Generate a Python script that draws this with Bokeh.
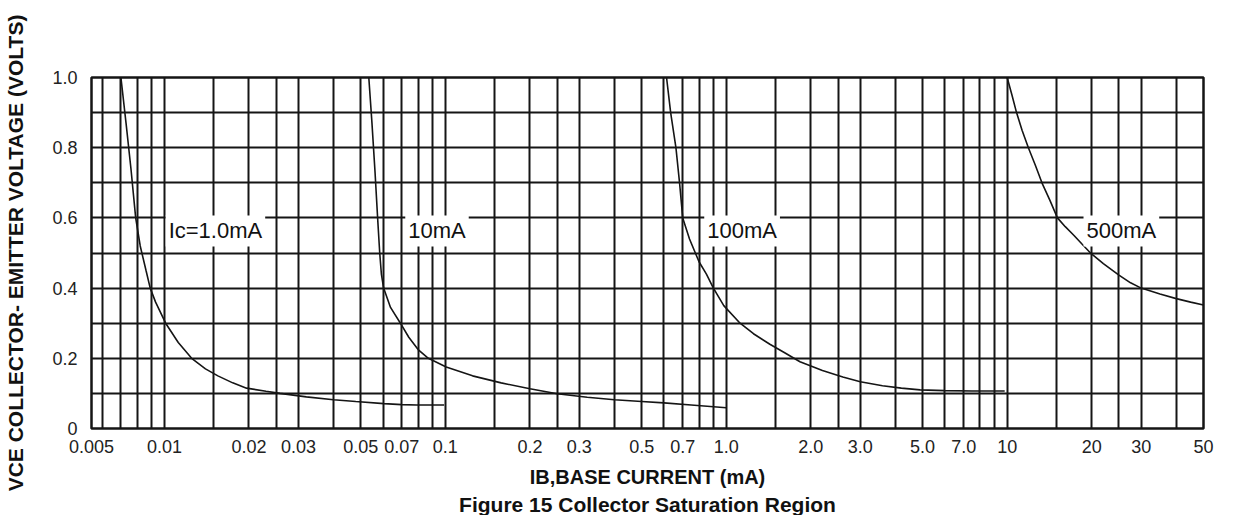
from bokeh.plotting import figure
from bokeh.models import FixedTicker, Label, Range1d, Title
from bokeh.embed import file_html
from bokeh.resources import INLINE

# ---------------- data ----------------
# Ic = 1.0 mA
ib_1ma = [0.0070, 0.0073, 0.0076, 0.0079, 0.0082, 0.0086, 0.0089, 0.0093, 0.0101,
          0.0112, 0.0125, 0.0140, 0.0155, 0.0175, 0.0196, 0.0230, 0.0258, 0.0320,
          0.0400, 0.0480, 0.0604, 0.0700, 0.0790, 0.0990]
vce_1ma = [1.00, 0.87, 0.74, 0.60, 0.52, 0.45, 0.40, 0.36, 0.30,
           0.245, 0.20, 0.17, 0.150, 0.13, 0.115, 0.106, 0.100, 0.090,
           0.082, 0.077, 0.071, 0.068, 0.067, 0.067]
# Ic = 10 mA
ib_10ma = [0.0534, 0.0548, 0.0562, 0.0574, 0.0584, 0.0592, 0.0603, 0.0638, 0.0692,
           0.0741, 0.0800, 0.0870, 0.0950, 0.1007, 0.1250, 0.1580, 0.2000, 0.2500,
           0.3200, 0.4000, 0.5000, 0.6000, 0.7500, 1.0000]
vce_10ma = [1.00, 0.87, 0.73, 0.60, 0.50, 0.44, 0.40, 0.345, 0.30,
            0.26, 0.225, 0.20, 0.185, 0.175, 0.150, 0.130, 0.113, 0.099,
            0.089, 0.082, 0.077, 0.073, 0.067, 0.059]
# Ic = 100 mA
ib_100ma = [0.613, 0.634, 0.662, 0.682, 0.700, 0.740, 0.800, 0.850, 0.900, 0.980,
            1.12, 1.25, 1.43, 1.62, 1.83, 2.2, 2.6, 3.0, 3.6, 4.2, 4.9, 6.0, 7.5, 9.8]
vce_100ma = [1.00, 0.90, 0.80, 0.70, 0.60, 0.54, 0.475, 0.44, 0.40, 0.35,
             0.30, 0.27, 0.24, 0.215, 0.19, 0.165, 0.147, 0.133, 0.122, 0.115,
             0.110, 0.108, 0.107, 0.107]
# Ic = 500 mA
ib_500ma = [10.0, 10.4, 10.8, 11.3, 11.9, 12.6, 13.3, 14.2, 15.1, 16.1, 17.3, 18.5,
            19.8, 22.0, 25.0, 27.5, 30.0, 35.0, 40.0, 45.0, 50.0]
vce_500ma = [1.00, 0.95, 0.90, 0.85, 0.80, 0.75, 0.70, 0.65, 0.60, 0.575, 0.55, 0.525,
             0.50, 0.47, 0.437, 0.415, 0.40, 0.383, 0.37, 0.36, 0.352]

curve_names = ["Ic=1.0mA", "10mA", "100mA", "500mA"]
# where each curve's name is written (left edge of text, on the 0.6 V grid line)
curve_label_x = [0.0101, 0.072, 0.835, 18.7]
curve_label_y = [0.6, 0.6, 0.6, 0.6]

# axis ticks (the reference's first decade is compressed; its left edge is labelled 0.005)
x_tick_values = [0.0055, 0.01, 0.02, 0.03, 0.05, 0.07, 0.1, 0.2, 0.3, 0.5, 0.7,
                 1, 2, 3, 5, 7, 10, 20, 30, 50]
x_tick_labels = ["0.005", "0.01", "0.02", "0.03", "0.05", "0.07", "0.1", "0.2", "0.3",
                 "0.5", "0.7", "1.0", "2.0", "3.0", "5.0", "7.0", "10", "20", "30", "50"]
x_grid_values = [0.006, 0.007, 0.008, 0.009,
                 0.01, 0.015, 0.02, 0.025, 0.03, 0.04, 0.05, 0.06, 0.07, 0.08, 0.09,
                 0.1, 0.15, 0.2, 0.25, 0.3, 0.4, 0.5, 0.6, 0.7, 0.8, 0.9,
                 1, 1.5, 2, 2.5, 3, 4, 5, 6, 7, 8, 9,
                 10, 15, 20, 25, 30, 40]
y_tick_values = [0, 0.2, 0.4, 0.6, 0.8, 1.0]
y_tick_labels = ["0", "0.2", "0.4", "0.6", "0.8", "1.0"]
y_grid_values = [0.1, 0.2, 0.3, 0.4, 0.5, 0.6, 0.7, 0.8, 0.9]

x_title = "IB,BASE CURRENT (mA)"
y_title = "VCE COLLECTOR- EMITTER VOLTAGE (VOLTS)"
caption = "Figure 15 Collector Saturation Region"

FONT = "Liberation Sans"
INK = "#151515"

p = figure(width=1235, height=515, x_axis_type="log",
           x_range=Range1d(0.0055, 50), y_range=Range1d(0, 1.0),
           output_backend="svg", toolbar_location=None,
           min_border_left=91, min_border_right=32, min_border_top=77,
           min_border_bottom=82, background_fill_color="white",
           border_fill_color="white")

p.outline_line_color = INK
p.outline_line_width = 2.5

# grids
p.xgrid.ticker = FixedTicker(ticks=x_grid_values)
p.ygrid.ticker = FixedTicker(ticks=y_grid_values)
for g in (p.xgrid, p.ygrid):
    g.grid_line_color = INK
    g.grid_line_width = 2

# axes
p.xaxis.ticker = FixedTicker(ticks=x_tick_values, minor_ticks=[])
p.xaxis.major_label_overrides = dict(zip(x_tick_values, x_tick_labels))
p.yaxis.ticker = FixedTicker(ticks=y_tick_values, minor_ticks=[])
p.yaxis.major_label_overrides = dict(zip(y_tick_values, y_tick_labels))
for ax in (p.xaxis, p.yaxis):
    ax.axis_line_color = None
    ax.major_tick_line_color = None
    ax.minor_tick_line_color = None
    ax.major_label_text_font = FONT
    ax.major_label_text_font_size = "18px"
    ax.major_label_text_color = "#222222"
    ax.axis_label_text_font = FONT
    ax.axis_label_text_font_style = "bold"
    ax.axis_label_text_color = "#111111"
p.xaxis.major_label_standoff = 5
p.yaxis.major_label_standoff = 8
p.xaxis.axis_label = x_title
p.xaxis.axis_label_text_font_size = "20px"
p.xaxis.axis_label_standoff = 10
p.yaxis.axis_label = y_title
p.yaxis.axis_label_text_font_size = "21px"
p.yaxis.axis_label_standoff = 22

p.add_layout(Title(text=caption, align="center", offset=14, standoff=0,
                   text_font=FONT, text_font_size="21px", text_font_style="bold",
                   text_color="#111111"), "below")

# curves
for xs, ys in ((ib_1ma, vce_1ma), (ib_10ma, vce_10ma),
               (ib_100ma, vce_100ma), (ib_500ma, vce_500ma)):
    p.line(xs, ys, line_color=INK, line_width=1.6)

# curve names with white boxes masking the grid
for name, lx, ly in zip(curve_names, curve_label_x, curve_label_y):
    p.add_layout(Label(x=lx, y=ly, text=name, text_font=FONT, text_font_size="22px",
                       text_color="#111111", text_baseline="alphabetic",
                       y_offset=-13, background_fill_color="white", padding=3))

open("out.html", "w").write(file_html(p, INLINE))
